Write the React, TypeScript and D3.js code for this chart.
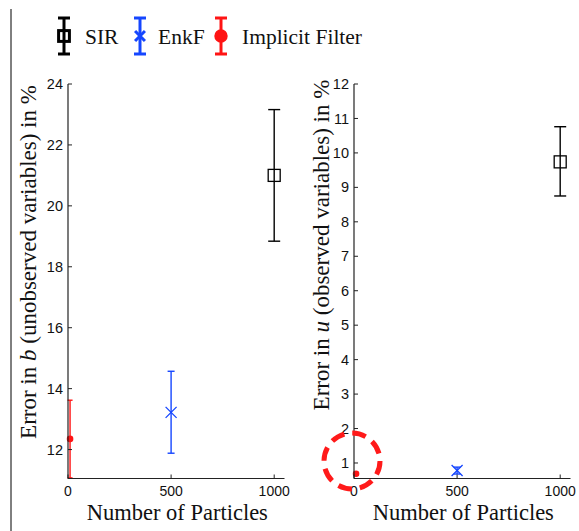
import React from "react";
import * as d3 from "d3";

// particle counts for each filter
const methods = ["SIR", "EnkF", "Implicit Filter"];
const particles = [1000, 500, 10];

// error in b (unobserved), percent
const errBMean = [21.0, 13.22, 12.35];
const errBLow = [18.84, 11.88, 11.07];
const errBHigh = [23.16, 14.57, 13.62];

// error in u (observed), percent
const errUMean = [9.74, 0.78, 0.69];
const errULow = [8.75, 0.68, 0.66];
const errUHigh = [10.76, 0.88, 0.72];

const xTicks = [0, 500, 1000];
const bTicks = [12, 14, 16, 18, 20, 22, 24];
const uTicks = [1, 2, 3, 4, 5, 6, 7, 8, 9, 10, 11, 12];

const colors = ["#000000", "#1546ff", "#ff1414"];
const capW = [12, 7, 5];
const serif = "'Liberation Serif', 'Times New Roman', serif";
const sans = "'Liberation Sans', Arial, sans-serif";

function Marker({ i, x, y, s = 1, sw = 1.3 }: any) {
  const c = colors[i];
  if (i === 0) {
    const h = 6 * s;
    return <rect x={x - h} y={y - h} width={2 * h} height={2 * h} fill="none" stroke={c} strokeWidth={sw} />;
  }
  if (i === 1) {
    const h = 5.5 * s;
    return (
      <path d={`M${x - h},${y - h}L${x + h},${y + h}M${x - h},${y + h}L${x + h},${y - h}`} stroke={c} strokeWidth={sw} />
    );
  }
  return <circle cx={x} cy={y} r={2.6 * s} fill={c} />;
}

function Panel({ left, ydom, yticks, mean, lo, hi, label, italic, rest, labelX, labelY }: any) {
  const top = 84;
  const bottom = 478.5;
  const x = d3.scaleLinear().domain([0, 1050]).range([left, left + 216.5]);
  const y = d3.scaleLinear().domain(ydom).range([bottom, top]);
  const axis = "#222";
  return (
    <g>
      {methods.map((m, i) => {
        const px = x(particles[i]);
        const cw = capW[i] / 2;
        return (
          <g key={m} stroke={colors[i]} strokeWidth={1.4} fill="none">
            <line x1={px} x2={px} y1={y(lo[i])} y2={y(hi[i])} />
            <line x1={px - cw} x2={px + cw} y1={y(lo[i])} y2={y(lo[i])} />
            <line x1={px - cw} x2={px + cw} y1={y(hi[i])} y2={y(hi[i])} />
            <Marker i={i} x={px} y={y(mean[i])} />
          </g>
        );
      })}
      <line x1={left} x2={left} y1={top} y2={bottom} stroke={axis} strokeWidth={1.2} />
      <line x1={left} x2={x(1050)} y1={bottom} y2={bottom} stroke={axis} strokeWidth={1.2} />
      {yticks.map((t: number) => (
        <g key={t}>
          <line x1={left} x2={left + 4} y1={y(t)} y2={y(t)} stroke={axis} />
          <text x={left - 5} y={y(t)} dy="0.35em" textAnchor="end" fontFamily={sans} fontSize={14.5} fill="#111">
            {t}
          </text>
        </g>
      ))}
      {xTicks.map((t) => (
        <g key={t}>
          <line x1={x(t)} x2={x(t)} y1={bottom} y2={bottom - 4} stroke={axis} />
          <text x={x(t)} y={bottom + 17.5} textAnchor="middle" fontFamily={sans} fontSize={14} fill="#111">
            {t}
          </text>
        </g>
      ))}
      <text x={x(530)} y={520} textAnchor="middle" fontFamily={serif} fontSize={22.5} fill="#111">
        Number of Particles
      </text>
      <text
        transform={`translate(${labelX},${labelY}) rotate(-90)`}
        textAnchor="middle"
        fontFamily={serif}
        fontSize={23}
        fill="#111"
      >
        {label}
        <tspan fontStyle="italic">{italic}</tspan>
        {rest}
      </text>
    </g>
  );
}

export default function App() {
  const legendX = [64, 140, 221];
  const textX = [85, 158, 242];
  return (
    <svg width={579} height={531} style={{ position: "absolute", left: 0, top: 0, background: "#fff" }}>
      <rect width={579} height={531} fill="#fff" />
      <line x1={11} x2={11} y1={9} y2={531} stroke="#000" strokeWidth={1} />
      {methods.map((m, i) => (
        <g key={m}>
          <g stroke={colors[i]} strokeWidth={3} fill="none">
            <line x1={legendX[i]} x2={legendX[i]} y1={18} y2={54} />
            <line x1={legendX[i] - 6} x2={legendX[i] + 6} y1={18} y2={18} />
            <line x1={legendX[i] - 6} x2={legendX[i] + 6} y1={54} y2={54} />
            <Marker i={i} x={legendX[i]} y={36} s={i === 2 ? 2 : 0.9} sw={3} />
          </g>
          <text x={textX[i]} y={44} fontFamily={serif} fontSize={21.5} fill="#111">
            {m}
          </text>
        </g>
      ))}
      <Panel
        left={68}
        ydom={[11.05, 24]}
        yticks={bTicks}
        mean={errBMean}
        lo={errBLow}
        hi={errBHigh}
        label="Error in "
        italic="b"
        rest=" (unobserved variables) in %"
        labelX={36}
        labelY={262}
      />
      <Panel
        left={354}
        ydom={[0.55, 12]}
        yticks={uTicks}
        mean={errUMean}
        lo={errULow}
        hi={errUHigh}
        label="Error in "
        italic="u"
        rest=" (observed variables) in %"
        labelX={329}
        labelY={245}
      />
      <circle cx={352} cy={461} r={28} fill="none" stroke="#ff1a1a" strokeWidth={5} strokeDasharray="14 8" />
    </svg>
  );
}
